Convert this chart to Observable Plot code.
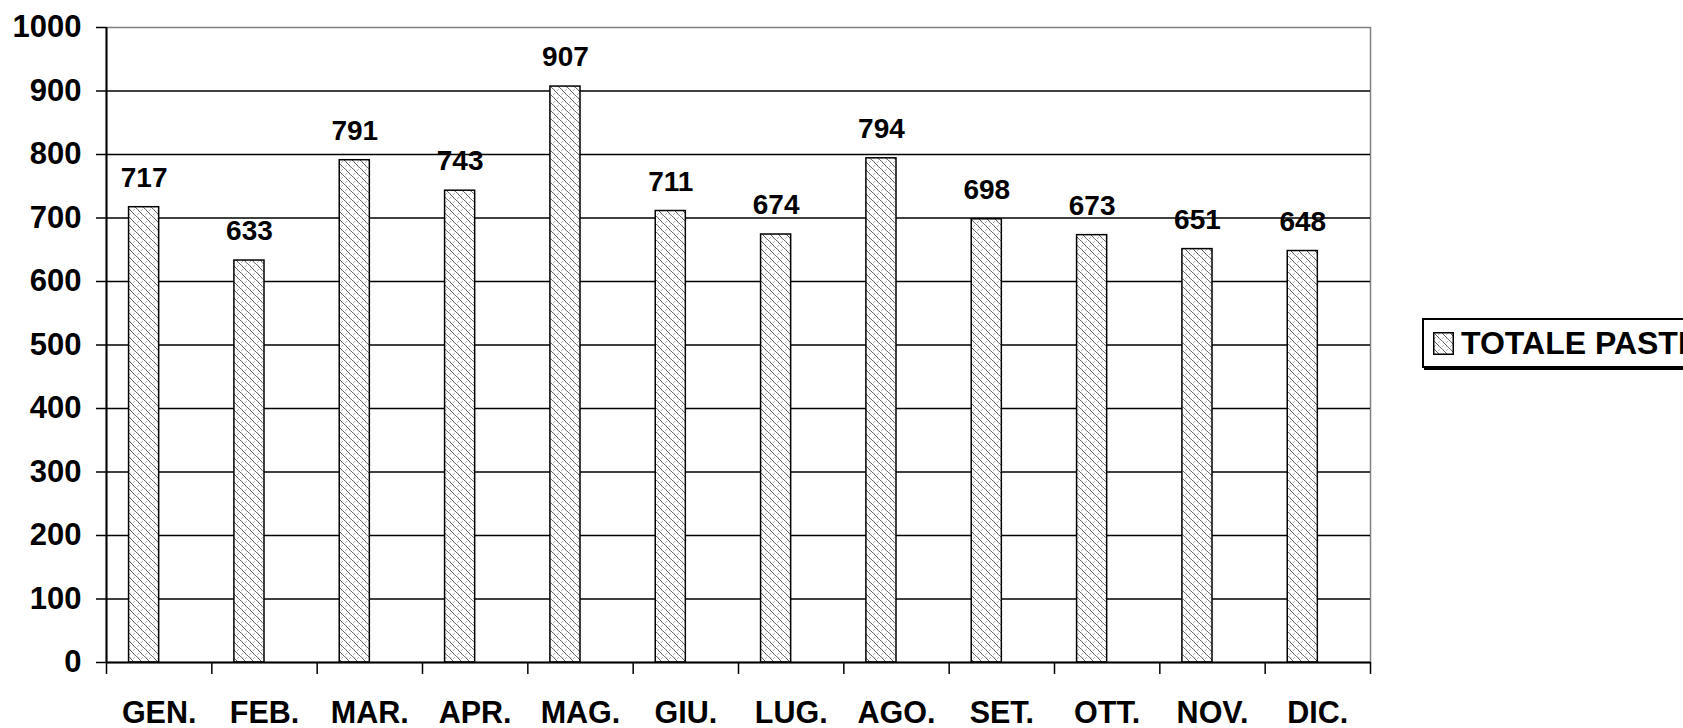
<!DOCTYPE html>
<html>
<head>
<meta charset="utf-8">
<script src="https://cdn.jsdelivr.net/npm/d3@7"></script>
<script src="https://cdn.jsdelivr.net/npm/@observablehq/plot@0.6"></script>
<style>
  html, body { margin: 0; padding: 0; background: #fff; overflow: hidden; }
  #wrap { position: relative; width: 1683px; height: 728px; overflow: hidden; }
  #legend {
    position: absolute; left: 1422px; top: 318px; width: 320px; height: 46px;
    border: 2px solid #000; box-shadow: 2px 2px 0 #000; background: #fff;
    font-family: "Liberation Sans", Arial, sans-serif; font-weight: bold; font-size: 32px;
    display: flex; align-items: center; white-space: nowrap;
  }
  #legend svg { margin-left: 9px; margin-right: 7px; }
</style>
</head>
<body>
<div id="wrap"></div>
<script>
const months = ["GEN.", "FEB.", "MAR.", "APR.", "MAG.", "GIU.", "LUG.", "AGO.", "SET.", "OTT.", "NOV.", "DIC."];
const totalePasti = [717, 633, 791, 743, 907, 711, 674, 794, 698, 673, 651, 648];
const yTicks = [0, 100, 200, 300, 400, 500, 600, 700, 800, 900, 1000];
const seriesName = "TOTALE PASTI";

const data = months.map((m, i) => ({i, month: m, value: totalePasti[i]}));

const W = 1683, H = 728;
const mL = 106, mR = 313, mT = 27, mB = 66;
const band = (W - mL - mR) / months.length;
const barW = band / 3.5;            // two-series cluster, gap 150%
const insetL = 0.75 * barW;
const insetR = band - 1.75 * barW;
const labelDx = -0.5 * barW;
const font = "'Liberation Sans', Arial, sans-serif";

const chart = Plot.plot({
  width: W, height: H,
  marginLeft: mL, marginRight: mR, marginTop: mT, marginBottom: mB,
  x: {type: "linear", domain: [0, months.length], axis: null},
  y: {domain: [0, 1000], axis: null},
  style: {fontFamily: font, fontWeight: "bold", background: "#fff", color: "#000", overflow: "visible"},
  marks: [
    Plot.frame({stroke: "#808080", strokeWidth: 1.5}),
    Plot.gridY(yTicks.filter(t => t > 0 && t < 1000), {stroke: "#000", strokeOpacity: 1, strokeWidth: 1.3}),
    Plot.rectY(data, {
      x1: d => d.i, x2: d => d.i + 1, y: "value",
      insetLeft: insetL, insetRight: insetR,
      fill: "url(#pasti-pattern)", stroke: "#000", strokeWidth: 1.5
    }),
    Plot.ruleY([0], {stroke: "#000", strokeWidth: 2}),
    Plot.ruleX([0], {stroke: "#000", strokeWidth: 2}),
    Plot.axisY({ticks: yTicks, tickSize: 10, tickPadding: 15, fontSize: 31, strokeWidth: 1.5, label: null, tickFormat: d => String(d)}),
    Plot.axisX({ticks: d3.range(months.length + 1), tickSize: 12, tickFormat: () => "", strokeWidth: 1.5, label: null}),
    Plot.text(data, {x: d => d.i + 0.5, y: () => 0, text: "month", lineAnchor: "bottom", dy: 60, fontSize: 30.5, fill: "#000"}),
    Plot.text(data, {x: d => d.i + 0.5, y: "value", text: d => String(d.value), lineAnchor: "bottom", dx: labelDx, dy: -20.5, fontSize: 28, fill: "#000"})
  ]
});

function addPattern(svgSel, id) {
  const defs = svgSel.insert("defs", ":first-child");
  const p = defs.append("pattern")
    .attr("id", id).attr("patternUnits", "userSpaceOnUse")
    .attr("width", 8).attr("height", 8);
  p.append("rect").attr("width", 8).attr("height", 8).attr("fill", "#fff");
  p.append("path")
    .attr("d", "M0,0 C1.5,0.5 2.5,3 4,4 S6.5,7.5 8,8 M-4,4 C-2.5,4.5 -1.5,7 0,8 M4,-4 C5.5,-3.5 6.5,-1 8,0")
    .attr("fill", "none").attr("stroke", "#555").attr("stroke-width", 1);
  p.append("path")
    .attr("d", "M1,7 L3,5 M5,3 L7,1")
    .attr("fill", "none").attr("stroke", "#999").attr("stroke-width", 0.7);
}

addPattern(d3.select(chart), "pasti-pattern");
document.getElementById("wrap").appendChild(chart);

// legend
const legend = document.createElement("div");
legend.id = "legend";
const sw = d3.create("svg").attr("width", 21).attr("height", 23);
addPattern(sw, "pasti-pattern-legend");
sw.append("rect").attr("x", 0.75).attr("y", 0.75).attr("width", 19.5).attr("height", 21.5)
  .attr("fill", "url(#pasti-pattern-legend)").attr("stroke", "#000").attr("stroke-width", 1.5);
legend.appendChild(sw.node());
const span = document.createElement("span");
span.textContent = seriesName;
legend.appendChild(span);
document.getElementById("wrap").appendChild(legend);
</script>
</body>
</html>
